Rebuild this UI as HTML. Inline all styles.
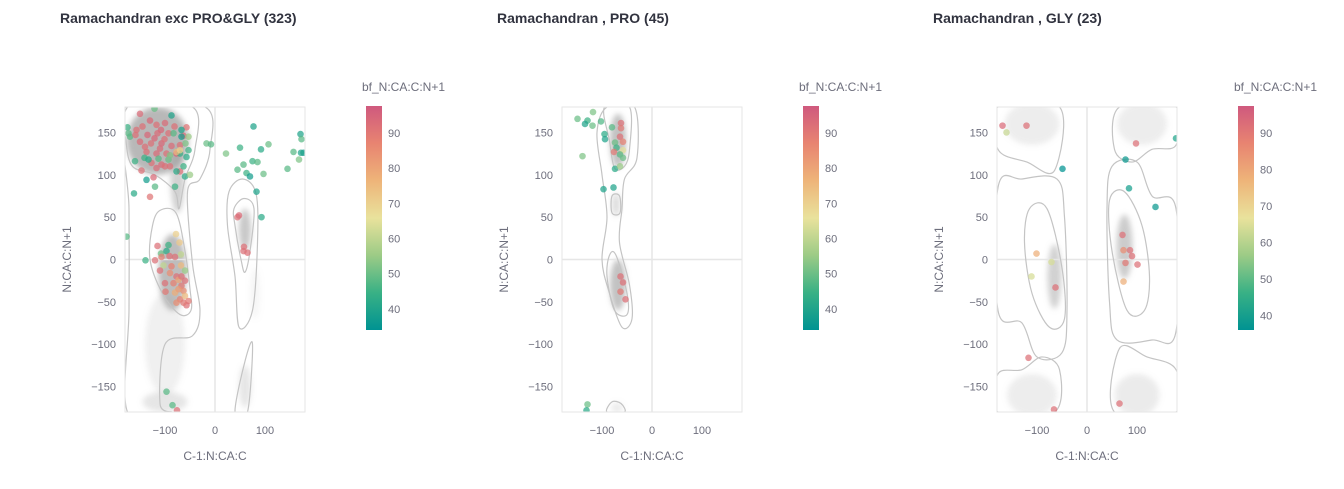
<!DOCTYPE html>
<html><head><meta charset="utf-8">
<style>
body{margin:0;background:#fff;font-family:"Liberation Sans","DejaVu Sans",sans-serif;}
svg{display:block}
</style></head>
<body>
<svg id="chart" width="1344" height="489" viewBox="0 0 1344 489" xmlns="http://www.w3.org/2000/svg">
<defs>
<linearGradient id="temps" x1="0" y1="1" x2="0" y2="0">
<stop offset="0" stop-color="#009392"/><stop offset="0.167" stop-color="#39b185"/><stop offset="0.333" stop-color="#9ccb86"/><stop offset="0.5" stop-color="#e9e29c"/><stop offset="0.667" stop-color="#eeb479"/><stop offset="0.833" stop-color="#e88471"/><stop offset="1" stop-color="#cf597e"/>
</linearGradient>
<filter id="blur" x="-50%" y="-50%" width="200%" height="200%"><feGaussianBlur stdDeviation="3"/></filter>
</defs>
</svg>
<script>
// ---- Panel 1 data (exc PRO&GLY) ----
const p1Phi=[-175,-170,-162,-177,-139,-121,-87,-97,-85,-76,-17,-8,22,50,77,92,107,57,45,75,85,63,70,97,145,157,168,171,173,177,172,83,93,45,48,58,57,65,
-78,-71,-68,-115,-93,-108,-97,-120,-103,-110,-68,-60,-90,-77,-100,-83,-73,-67,-99,-80,-63,-70,-60,-53,-57,-73,-67,-87,-107,-80,-91,-60,-77,-63,
-150,-145,-130,-117,-100,-81,-57,-159,-135,-115,-93,-150,-128,-107,-87,-137,-117,-97,-77,-127,-107,-90,-147,-123,-130,-70,-110,-140,-121,-101,-63,-157,-108,-70,-117,-100,
-173,-141,-160,-133,-113,-93,-77,-63,-60,-67,-83,-59,-57,-67,-50,-80,-120,-137,-90,-53,-70,-53,-77,-70];
const p1Psi=[156,145,78,27,-1,178,170,-156,-172,-178,137,136,125,132,157,130,136,112,106,116,115,102,98,101,107,127,118,148,142,126,126,80,50,50,52,15,10,8,
30,20,6,16,17,7,10,-1,-7,-13,-7,-13,-16,-20,-28,-28,-24,-31,-38,-39,-37,-47,-43,-49,-54,-35,-20,-8,3,3,4,-25,-51,-51,
172,157,164,159,161,157,156,147,147,149,149,139,137,137,134,127,125,125,125,114,112,110,105,97,74,104,131,133,143,142,146,153,153,135,108,110,
149,120,116,118,119,118,104,110,98,145,149,137,121,153,100,86,86,94,123,129,125,145,127,129];
const p1Bf=[45,48,42,48,45,50,40,48,48,92,50,48,52,45,40,42,50,48,48,45,48,45,38,50,48,48,52,40,48,38,40,40,42,92,93,92,92,92,
70,72,60,92,45,50,42,92,60,92,75,55,85,92,92,88,80,90,90,78,85,88,75,90,92,82,92,88,88,92,92,92,85,90,
93,92,94,92,93,92,91,92,94,93,92,93,92,94,93,92,93,92,94,92,93,92,92,93,91,92,93,92,94,92,93,92,94,92,93,92,
48,45,45,42,48,50,42,45,42,38,48,52,42,40,55,45,48,38,52,45,44,55,75,70];
// ---- Panel 2 data (PRO) ----
const p2Phi=[-149,-129,-134,-118,-119,-102,-95,-94,-139,-80,-62,-62,-64,-58,-74,-71,-58,-76,-64,-58,-74,-64,-97,-77,-63,-58,-63,-53,-129,-131];
const p2Psi=[166,164,160,174,158,163,148,142,122,156,161,155,145,139,138,132,129,127,124,120,107,110,83,85,-20,-27,-38,-47,-171,-178];
const p2Bf=[50,45,40,52,50,47,42,40,52,48,92,90,92,88,50,45,65,90,48,50,42,55,40,40,92,92,90,92,50,42];
// ---- Panel 3 data (GLY) ----
const p3Phi=[-169,-121,-161,-49,-101,-71,-111,-63,-117,-66,98,77,178,84,137,71,73,86,90,77,101,73,65];
const p3Psi=[158,158,150,107,7,-3,-20,-33,-116,-177,137,118,143,84,62,29,11,11,4,-4,-6,-26,-170];
const p3Bf=[93,92,62,35,78,64,64,92,92,92,92,38,42,40,38,92,85,92,92,90,92,78,92];
// tick labels
const axisTicks=[-150,-100,-50,0,50,100,150];
const xTickVals=[-100,0,100];
const cbTicks=[40,50,60,70,80,90];
const titles=["Ramachandran exc PRO&GLY (323)","Ramachandran , PRO (45)","Ramachandran , GLY (23)"];

const svg=document.getElementById('chart');
const NS='http://www.w3.org/2000/svg';
function mk(tag,attrs,parent){const e=document.createElementNS(NS,tag);for(const k in attrs)e.setAttribute(k,attrs[k]);(parent||svg).appendChild(e);return e;}
const stops=['#009392','#39b185','#9ccb86','#e9e29c','#eeb479','#e88471','#cf597e'];
function hex(c){return [1,3,5].map(i=>parseInt(c.substr(i,2),16));}
function cmap(t){t=Math.max(0,Math.min(1,t));const s=t*6,i=Math.min(5,Math.floor(s)),f=s-i;const a=hex(stops[i]),b=hex(stops[i+1]);return 'rgb('+a.map((v,k)=>Math.round(v+(b[k]-v)*f)).join(',')+')';}
function smooth(pts){let d='';const n=pts.length;for(let i=0;i<n;i++){const p0=pts[(i-1+n)%n],p1=pts[i],p2=pts[(i+1)%n],p3=pts[(i+2)%n];if(i===0)d+='M'+p1[0]+','+p1[1];d+=' C'+(p1[0]+(p2[0]-p0[0])/6)+','+(p1[1]+(p2[1]-p0[1])/6)+' '+(p2[0]-(p3[0]-p1[0])/6)+','+(p2[1]-(p3[1]-p1[1])/6)+' '+p2[0]+','+p2[1];}return d+'Z';}

// density/contours per panel (background, in degree coords)
const blobs=[
 [[-115,140,62,40,0.7],[-75,95,14,40,0.45],[-85,-15,28,45,0.65],[-100,-100,40,60,0.15],[60,35,12,25,0.55],[60,-150,12,25,0.25],[-100,-168,45,12,0.25],[80,-40,10,30,0.1]],
 [[-68,140,16,32,0.6],[-72,65,8,14,0.35],[-68,-30,16,30,0.6],[-70,-175,12,6,0.2]],
 [[-110,160,55,25,0.18],[110,160,50,25,0.18],[-65,-20,14,38,0.45],[75,15,16,38,0.5],[-110,-160,50,25,0.18],[100,-160,45,25,0.2]]
];
const contours=[
 [[[-178,180],[-45,180],[-40,130],[-60,95],[-72,60],[-80,80],[-120,100],[-165,110],[-178,140]],
  [[-110,58],[-78,55],[-60,10],[-50,-35],[-48,-60],[-70,-65],[-105,-40],[-130,0],[-125,40]],
  [[-175,180],[-20,180],[-10,130],[-30,95],[-55,80],[-45,-5],[-30,-60],[-45,-90],[-100,-100],[-110,-170],[-90,-180],[-175,-180],[-172,-60],[-172,60]],
  [[38,60],[58,72],[78,60],[70,10],[60,-15],[52,0],[40,40]],
  [[28,80],[55,95],[82,78],[85,20],[75,-60],[48,-80],[40,-20],[25,40]],
  [[40,-180],[60,-120],[75,-100],[65,-180]]],
 [[[-95,180],[-45,180],[-45,130],[-55,110],[-75,108],[-85,140]],
  [[-90,180],[-35,180],[-30,120],[-55,95],[-60,60],[-65,20],[-45,-30],[-40,-70],[-60,-80],[-85,-40],[-100,0],[-90,50],[-100,100],[-110,150]],
  [[-80,75],[-65,75],[-64,55],[-80,55]],
  [[-85,5],[-72,5],[-50,-40],[-50,-65],[-75,-60],[-90,-20]],
  [[-90,-180],[-55,-180],[-62,-170],[-80,-168]]],
 [[[-178,130],[-120,115],[-65,105],[-55,180],[-178,180]],
  [[-178,85],[-130,95],[-60,95],[-45,50],[-40,-60],[-50,-110],[-100,-115],[-130,-75],[-178,-60]],
  [[-115,60],[-80,60],[-50,-10],[-45,-70],[-75,-80],[-110,-40],[-125,20]],
  [[178,-130],[120,-115],[65,-105],[55,-180],[178,-180]],
  [[178,-85],[130,-95],[60,-95],[45,-50],[40,60],[50,110],[100,115],[130,75],[178,60]],
  [[115,-60],[80,-60],[50,10],[45,70],[75,80],[110,40],[125,-20]],
  [[65,180],[55,130],[90,115],[130,130],[178,135],[178,180]],
  [[-65,-180],[-55,-130],[-90,-115],[-130,-130],[-178,-135],[-178,-180]]]
];
const panels=[
 {x0:125,tx:60,phi:p1Phi,psi:p1Psi,bf:p1Bf,cmin:34,cmax:97.7},
 {x0:562,tx:497,phi:p2Phi,psi:p2Psi,bf:p2Bf,cmin:34,cmax:97.7},
 {x0:997,tx:933,phi:p3Phi,psi:p3Psi,bf:p3Bf,cmin:36,cmax:97.4}
];
const Y0=107,H=305,W=180;
panels.forEach((P,pi)=>{
 const g=mk('g',{});
 
 
 const sx=v=>P.x0+(v+180)/360*W, sy=v=>Y0+(180-v)/360*H;
 const t=mk('text',{x:P.tx,y:23,'font-size':14,'font-weight':'bold',fill:'#31333f'},g);t.textContent=titles[pi];
 
 const clip=mk('clipPath',{id:'clip'+pi},g);mk('rect',{x:P.x0,y:Y0,width:W,height:H},clip);
 const plot=mk('g',{'clip-path':'url(#clip'+pi+')'},g);
 
 blobs[pi].forEach(b=>{const e=mk('ellipse',{cx:sx(b[0]),cy:sy(b[1]),rx:b[2]/360*W,ry:b[3]/360*H,fill:'#9a9a9a','fill-opacity':b[4],filter:'url(#blur)'},plot);
  });
 mk('line',{x1:sx(0),x2:sx(0),y1:Y0,y2:Y0+H,stroke:'#e6e6e6','stroke-width':1.5},plot);
 mk('line',{x1:P.x0,x2:P.x0+W,y1:sy(0),y2:sy(0),stroke:'#e6e6e6','stroke-width':1.5},plot);
 contours[pi].forEach(c=>{const e=mk('path',{d:smooth(c.map(p=>[sx(p[0]),sy(p[1])])),fill:'none',stroke:'#c4c4c4','stroke-width':1.2},plot);
  });
 P.phi.forEach((ph,i)=>{const c=mk('circle',{cx:sx(ph),cy:sy(P.psi[i]),r:3.3,fill:cmap((P.bf[i]-P.cmin)/(P.cmax-P.cmin)),'fill-opacity':0.72},plot);
  
  });
 mk('rect',{x:P.x0,y:Y0,width:W,height:H,fill:'none',stroke:'#e6e6e6'},g);
 axisTicks.forEach(v=>{const e=mk('text',{x:P.x0-9,y:sy(v)+4,'font-size':11,fill:'#6d6e7c','text-anchor':'end'},g);e.textContent=v<0?'\u2212'+(-v):v;
  });
 xTickVals.forEach(v=>{const e=mk('text',{x:sx(v),y:434,'font-size':11,fill:'#6d6e7c','text-anchor':'middle'},g);e.textContent=v<0?'\u2212'+(-v):v;
  });
 const xt=mk('text',{x:P.x0+W/2,y:460,'font-size':12,fill:'#6d6e7c','text-anchor':'middle'},g);xt.textContent='C-1:N:CA:C';
 
 const yt=mk('text',{x:0,y:0,'font-size':12,fill:'#6d6e7c','text-anchor':'middle',transform:'translate('+(P.x0-54)+','+(Y0+H/2)+') rotate(-90)'},g);yt.textContent='N:CA:C:N+1';
 
 const cx=P.x0+241,cy0=106,ch=224;
 const cb=mk('rect',{x:cx,y:cy0,width:16,height:ch,fill:'url(#temps)'},g);
 
 const ct=mk('text',{x:cx-4,y:91,'font-size':12,fill:'#6d6e7c'},g);ct.textContent='bf_N:CA:C:N+1';
 
 cbTicks.forEach(v=>{const yy=cy0+ch-(v-P.cmin)/(P.cmax-P.cmin)*ch;const e=mk('text',{x:cx+22,y:yy+4,'font-size':11,fill:'#6d6e7c'},g);e.textContent=v;
  });
});
</script>
</body></html>
